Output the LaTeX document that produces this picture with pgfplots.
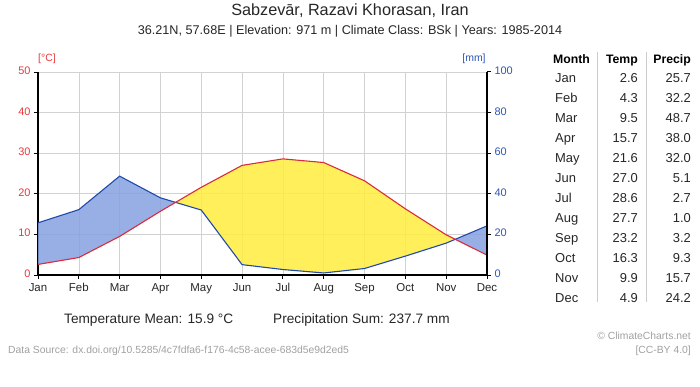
\documentclass[border=0pt]{standalone}
\usepackage{fontspec}
\setmainfont{Liberation Sans}
\usepackage{pgfplots}
\pgfplotsset{compat=1.18}
\usepgfplotslibrary{fillbetween}
\usepackage{pgfplotstable}
\definecolor{tred}{HTML}{D92B3A}
\definecolor{pblue}{HTML}{1F4AAB}
\definecolor{lred}{HTML}{E8383D}
\definecolor{lblue}{HTML}{2F55B5}
\definecolor{fblue}{HTML}{86A1E0}
\definecolor{fyellow}{HTML}{FFEC3D}
\definecolor{footgray}{HTML}{A0A0A0}
\pgfplotstableread{
m t p
1 2.6 25.7
2 4.3 32.2
3 9.5 48.7
4 15.7 38.0
5 21.6 32.0
6 27.0 5.1
7 28.6 2.7
8 27.7 1.0
9 23.2 3.2
10 16.3 9.3
11 9.9 15.7
12 4.9 24.2
}\climate
\begin{document}
\begin{tikzpicture}
\begin{axis}[
  at={(38bp,112bp)}, anchor=south west,
  scale only axis, width=449bp, height=203bp,
  xmin=1, xmax=12, ymin=0, ymax=50,
  xtick={1,...,12},
  xticklabels={Jan,Feb,Mar,Apr,May,Jun,Jul,Aug,Sep,Oct,Nov,Dec},
  ytick={0,10,...,50},
  axis x line*=bottom, axis y line*=left,
  axis line style={-, line width=1.6pt, black},
  tick style={black, line width=1pt},
  major tick length=4bp,
  tick align=outside,
  grid=major, major grid style={gray!35, line width=0.6pt},
  /pgf/number format/assume math mode=true,
  typeset ticklabels with strut,
  yticklabel style={text=lred, font=\fontsize{11}{13}\selectfont},
  xticklabel style={font=\fontsize{11.5}{13}\selectfont, text=black!85},
]
\addplot[name path=P, pblue, line width=1.1pt, mark=none] table[x=m, y expr=\thisrow{p}/2] {\climate};
\addplot[name path=T, tred, line width=1.1pt, mark=none] table[x=m, y=t] {\climate};
\addplot[fill opacity=0.85] fill between[of=T and P, split,
  every segment no 0/.style={fill=fblue},
  every segment no 1/.style={fill=fyellow},
  every segment no 2/.style={fill=fblue}];
\end{axis}
\begin{axis}[
  at={(38bp,112bp)}, anchor=south west,
  scale only axis, width=449bp, height=203bp,
  xmin=1, xmax=12, ymin=0, ymax=100,
  ytick={0,20,...,100},
  axis x line=none, axis y line*=right,
  axis line style={-, line width=1.6pt, black},
  tick style={black, line width=1pt},
  major tick length=4bp,
  tick align=outside,
  /pgf/number format/assume math mode=true,
  typeset ticklabels with strut,
  yticklabel style={text=lblue, font=\fontsize{11}{13}\selectfont},
]
\addplot[draw=none] coordinates {(1,0) (12,100)};
\end{axis}
% axis unit labels
\node[text=lred, anchor=base, font=\fontsize{10.5}{12}\selectfont] at (47bp,325bp) {[°C]};
\node[text=lblue, anchor=base, font=\fontsize{10.5}{12}\selectfont] at (474bp,325bp) {[mm]};
% titles
\node[anchor=base, font=\fontsize{16.3}{19}\selectfont, text=black!85] at (350bp,371bp) {Sabzevār, Razavi Khorasan, Iran};
\node[anchor=base, font=\fontsize{12.7}{15}\selectfont, text=black!85] at (350bp,352.5bp) {36.21N, 57.68E | Elevation: 971 m | Climate Class: BSk | Years: 1985-2014};
% bottom
\node[anchor=base west, inner sep=0pt, font=\fontsize{13.7}{16}\selectfont, text=black!85] at (64bp,63bp) {Temperature Mean: 15.9 °C};
\node[anchor=base west, inner sep=0pt, font=\fontsize{13.7}{16}\selectfont, text=black!85] at (273bp,63bp) {Precipitation Sum: 237.7 mm};
\node[anchor=base west, inner sep=0pt, font=\fontsize{10.4}{12}\selectfont, text=footgray] at (8bp,33.5bp) {Data Source: dx.doi.org/10.5285/4c7fdfa6-f176-4c58-acee-683d5e9d2ed5};
\node[anchor=base east, inner sep=0pt, font=\fontsize{10.4}{12}\selectfont, text=footgray] at (691bp,47.5bp) {© ClimateCharts.net};
\node[anchor=base east, inner sep=0pt, font=\fontsize{10.4}{12}\selectfont, text=footgray] at (691bp,33.5bp) {[CC-BY 4.0]};
% table
\draw[gray!40, line width=0.8pt] (597bp,335bp) -- (597bp,85bp);
\draw[gray!40, line width=0.8pt] (646bp,335bp) -- (646bp,85bp);
\node[anchor=base west, inner sep=0pt, font=\bfseries\fontsize{12.3}{14}\selectfont] at (553bp,323.5bp) {Month};
\node[anchor=base east, inner sep=0pt, font=\bfseries\fontsize{12.3}{14}\selectfont] at (638bp,323.5bp) {Temp};
\node[anchor=base east, inner sep=0pt, font=\bfseries\fontsize{12.3}{14}\selectfont] at (691bp,323.5bp) {Precip};
\foreach \mo/\te/\pr [count=\i] in {Jan/2.6/25.7,Feb/4.3/32.2,Mar/9.5/48.7,Apr/15.7/38.0,May/21.6/32.0,Jun/27.0/5.1,Jul/28.6/2.7,Aug/27.7/1.0,Sep/23.2/3.2,Oct/16.3/9.3,Nov/9.9/15.7,Dec/4.9/24.2}{
  \pgfmathsetmacro{\yy}{304.4-20*(\i-1)}
  \node[anchor=base west, inner sep=0pt, font=\fontsize{13}{15}\selectfont, text=black!85] at (555bp,\yy bp) {\mo};
  \node[anchor=base east, inner sep=0pt, font=\fontsize{13}{15}\selectfont, text=black!85] at (638bp,\yy bp) {\te};
  \node[anchor=base east, inner sep=0pt, font=\fontsize{13}{15}\selectfont, text=black!85] at (691bp,\yy bp) {\pr};
}
\path (0bp,0bp) rectangle (700bp,387bp);
\end{tikzpicture}
\end{document}
